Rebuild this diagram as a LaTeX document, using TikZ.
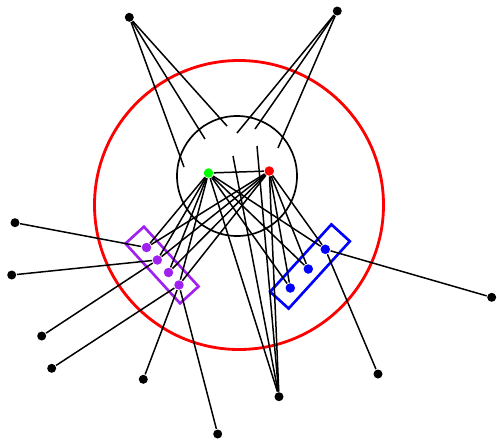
\documentclass[tikz,border=0pt]{standalone}
\usepackage{xcolor}
\usepackage{tikz}
\usetikzlibrary{positioning}

\definecolor{grpviolet}{RGB}{160,32,240}

\begin{document}
\begin{tikzpicture}[x=0.02cm, y=-0.02cm, line width=0.85pt,
    dot/.style={circle, fill=black, inner sep=0pt, minimum size=0.18cm},
    hub/.style={circle, fill=#1, inner sep=0pt, minimum size=0.19cm},
    grpbox/.style={draw=#1, line width=1.5pt, rectangle, minimum width=1.62cm, minimum height=0.5cm}]
    \useasboundingbox (0,0) rectangle (497,440);

    \draw[red, line width=1.6pt] (239,205) circle [radius=144.5];
    \draw[line width=0.95pt] (237,176) circle [radius=60];
    \node[grpbox=grpviolet, rotate=-47.6] (pbox) at (162,265) {};
    \node[grpbox=blue, minimum width=1.82cm, rotate=47.7] (bbox) at (310,266.5) {};

    \node[hub=green] (gn) at (208.5,173) {};
    \node[hub=red] (rn) at (269.3,171) {};
    \node[hub=grpviolet] (pa) at (146.5,247.5) {};
    \node[hub=grpviolet] (pb) at (157.3,260) {};
    \node[hub=grpviolet] (pc) at (168.5,272.5) {};
    \node[hub=grpviolet] (pd) at (179,285) {};
    \node[hub=blue] (ba) at (325.3,249.3) {};
    \node[hub=blue] (bb) at (308.3,269) {};
    \node[hub=blue] (bc) at (290.3,288) {};

    \node[dot] (nw) at (129.3,17.3) {};
    \node[dot] (ne) at (337.3,11) {};
    \node[dot] (w1) at (15,222.7) {};
    \node[dot] (w2) at (11.7,275) {};
    \node[dot] (w3) at (41.7,336) {};
    \node[dot] (w4) at (51.7,368.3) {};
    \node[dot] (s1) at (143.3,379.3) {};
    \node[dot] (s2) at (217.7,434) {};
    \node[dot] (s3) at (279,396.7) {};
    \node[dot] (s4) at (378,374) {};
    \node[dot] (e1) at (491.7,297.3) {};

    \coordinate (t1) at (184,167);
    \coordinate (t2) at (205,139);
    \coordinate (t3) at (227,126);
    \coordinate (t4) at (237,133);
    \coordinate (t5) at (255,129);
    \coordinate (t6) at (278,148);
    \coordinate (h1) at (233,156);
    \coordinate (h2) at (257,146);

    \foreach \t in {t1,t2,t3} \draw (nw) -- (\t);
    \foreach \t in {t4,t5,t6} \draw (ne) -- (\t);
    \foreach \h in {h1,h2} \draw (\h) -- (s3);

    \draw (gn) -- (rn);
    \foreach \v in {pa,pb,pc,pd,ba,bb,bc,s3} {
        \draw (gn) -- (\v);
        \draw (rn) -- (\v);
    }

    \draw (w1) -- (pa);
    \draw (w2) -- (pb);
    \draw (w3) -- (pb);
    \draw (w4) -- (pd);
    \draw (s1) -- (pd);
    \draw (s2) -- (pd);
    \draw (e1) -- (ba);
    \draw (s4) -- (ba);
\end{tikzpicture}
\end{document}
